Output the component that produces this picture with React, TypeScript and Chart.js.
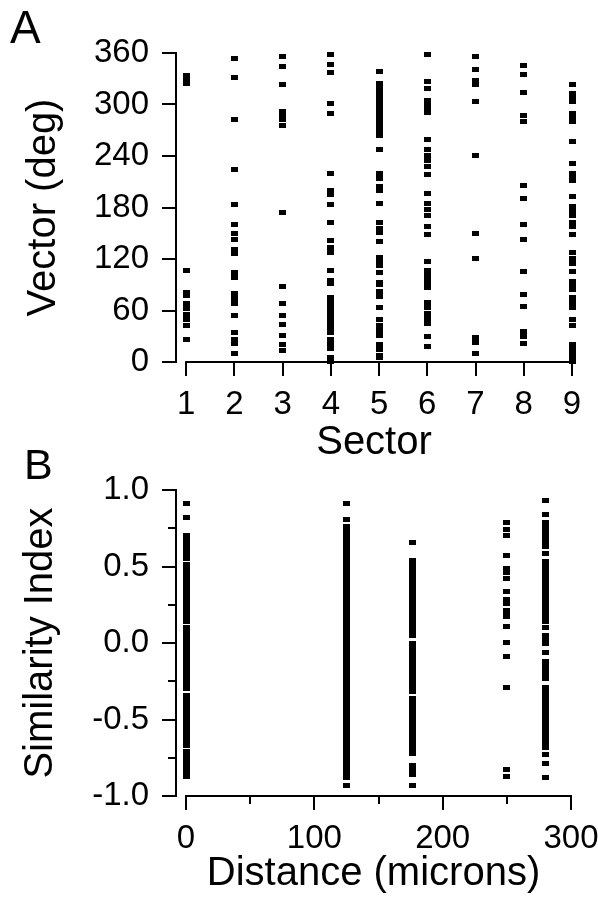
import { useEffect, useRef } from 'react';
import { Chart, registerables } from 'chart.js';

Chart.register(...registerables);

// ---------- Panel A: Vector (deg) per Sector ----------
const sectorTicks = [1, 2, 3, 4, 5, 6, 7, 8, 9];
const vectorTicks = [0, 60, 120, 180, 240, 300, 360];

const sector1 = [334, 329, 325, 107, 81, 77, 68, 62, 55, 49, 43, 26];
const sector2 = [354, 332, 282, 224, 183, 160, 150, 143, 131, 126, 104, 98, 80, 74, 68, 54, 34, 26, 21, 10];
const sector3 = [356, 344, 323, 292, 287, 282, 275, 174, 88, 68, 54, 44, 31, 20, 13];
const sector4 = [358, 347, 337, 301, 290, 220, 200, 195, 183, 162, 142, 133, 127, 107, 95, 92, 75, 70, 65, 60, 55, 50, 45, 40, 34, 26, 20, 16, 5, 1];
const sector5 = [338, 324, 321, 317, 313, 309, 306, 302, 298, 295, 291, 287, 283, 279, 275, 271, 267, 264, 247, 220, 214, 204, 200, 185, 162, 156, 151, 140, 122, 116, 112, 104, 93, 90, 82, 76, 64, 49, 43, 37, 31, 20, 14, 8, 5];
const sector6 = [358, 327, 319, 305, 299, 295, 291, 259, 247, 241, 235, 228, 218, 196, 185, 178, 171, 158, 148, 117, 107, 102, 97, 92, 87, 69, 63, 57, 51, 45, 30, 18];
const sector7 = [356, 341, 328, 323, 303, 241, 150, 121, 28, 23, 10];
const sector8 = [345, 335, 314, 287, 280, 206, 191, 160, 143, 106, 79, 65, 35, 30, 22];
const sector9 = [323, 313, 308, 303, 290, 285, 280, 257, 231, 220, 216, 212, 193, 181, 176, 171, 163, 158, 148, 127, 121, 115, 106, 94, 89, 84, 75, 69, 63, 50, 43, 20, 14, 9, 5, 1];
const sectorVectors = [sector1, sector2, sector3, sector4, sector5, sector6, sector7, sector8, sector9];

// ---------- Panel B: Similarity Index vs Distance ----------
const distanceTicks = [0, 100, 200, 300];
const distanceMinorTicks = [50, 150, 250];
const similarityTicks = [-1, -0.5, 0, 0.5, 1];
const similarityMinorTicks = [-0.75, -0.25, 0.25, 0.75];
const distances = [0, 125, 176.5, 250, 280];

const simAt0 = [0.91, 0.82, 0.70, 0.68, 0.66, 0.63, 0.61, 0.59, 0.57, 0.55, 0.51, 0.49, 0.47, 0.45, 0.43, 0.41, 0.39, 0.37, 0.34, 0.32, 0.30, 0.27, 0.25, 0.23, 0.21, 0.18, 0.16, 0.14, 0.10, 0.08, 0.06, 0.03, 0.01, -0.02, -0.04, -0.07, -0.09, -0.11, -0.14, -0.16, -0.18, -0.21, -0.23, -0.25, -0.28, -0.30, -0.34, -0.36, -0.39, -0.41, -0.43, -0.46, -0.48, -0.51, -0.53, -0.55, -0.58, -0.60, -0.62, -0.65, -0.67, -0.71, -0.73, -0.75, -0.78, -0.80, -0.83, -0.85, -0.87];
const simAt125 = [0.91, 0.81, 0.76, 0.73, 0.71, 0.69, 0.66, 0.64, 0.62, 0.59, 0.57, 0.54, 0.52, 0.50, 0.47, 0.45, 0.43, 0.40, 0.38, 0.36, 0.33, 0.31, 0.29, 0.26, 0.24, 0.22, 0.19, 0.17, 0.15, 0.12, 0.10, 0.08, 0.05, 0.03, 0.01, -0.02, -0.04, -0.06, -0.09, -0.11, -0.13, -0.16, -0.18, -0.20, -0.23, -0.25, -0.27, -0.30, -0.32, -0.34, -0.37, -0.39, -0.41, -0.44, -0.46, -0.48, -0.51, -0.53, -0.55, -0.58, -0.60, -0.62, -0.65, -0.67, -0.69, -0.72, -0.74, -0.76, -0.79, -0.81, -0.83, -0.86, -0.88, -0.93];
const simAt176 = [0.66, 0.54, 0.52, 0.49, 0.46, 0.44, 0.42, 0.40, 0.38, 0.35, 0.33, 0.30, 0.28, 0.26, 0.24, 0.21, 0.19, 0.17, 0.14, 0.12, 0.09, 0.07, 0.05, 0.00, -0.02, -0.04, -0.07, -0.09, -0.11, -0.14, -0.16, -0.19, -0.21, -0.23, -0.25, -0.28, -0.30, -0.32, -0.36, -0.38, -0.40, -0.42, -0.44, -0.46, -0.49, -0.51, -0.53, -0.56, -0.58, -0.60, -0.63, -0.66, -0.68, -0.70, -0.72, -0.80, -0.83, -0.86, -0.93];
const simAt250 = [0.79, 0.74, 0.70, 0.575, 0.49, 0.46, 0.42, 0.335, 0.285, 0.26, 0.215, 0.19, 0.17, 0.105, 0.005, -0.09, -0.29, -0.83, -0.87];
const simAt280 = [0.93, 0.84, 0.79, 0.77, 0.74, 0.72, 0.69, 0.66, 0.63, 0.585, 0.53, 0.51, 0.48, 0.46, 0.43, 0.41, 0.38, 0.36, 0.33, 0.31, 0.28, 0.26, 0.23, 0.21, 0.18, 0.16, 0.14, 0.10, 0.05, 0.02, 0.00, -0.06, -0.12, -0.15, -0.18, -0.21, -0.23, -0.29, -0.32, -0.34, -0.37, -0.40, -0.42, -0.45, -0.48, -0.50, -0.53, -0.56, -0.58, -0.61, -0.63, -0.66, -0.68, -0.73, -0.79, -0.88];
const similarityByDistance = [simAt0, simAt125, simAt176, simAt250, simAt280];

const FONT = "'Liberation Sans', Arial, Helvetica, sans-serif";
const TICK_FONT = { family: FONT, size: 33 };
const TITLE_FONT = { family: FONT, size: 40 };

function makeMarker(): HTMLCanvasElement {
  const c = document.createElement('canvas');
  c.width = 7;
  c.height = 5;
  const g = c.getContext('2d')!;
  g.fillStyle = '#000';
  g.fillRect(0, 0, 7, 5);
  return c;
}

const detachedAxes = {
  id: 'detachedAxes',
  afterDatasetsDraw(chart: any, _args: any, opts: any) {
    const { ctx, chartArea } = chart;
    const xs = chart.scales.x;
    const ys = chart.scales.y;
    const xT: number[] = opts.xTicks;
    ctx.save();
    ctx.strokeStyle = '#000';
    ctx.lineWidth = 2;
    ctx.beginPath();
    // y axis line
    ctx.moveTo(chartArea.left, ys.getPixelForValue(ys.min) + 1);
    ctx.lineTo(chartArea.left, ys.getPixelForValue(ys.max) - 1);
    // x axis line (detached, spans first..last tick)
    ctx.moveTo(xs.getPixelForValue(xT[0]) - 1, chartArea.bottom);
    ctx.lineTo(xs.getPixelForValue(xT[xT.length - 1]) + 1, chartArea.bottom);
    // minor ticks
    (opts.yMinor || []).forEach((v: number) => {
      const p = Math.round(ys.getPixelForValue(v));
      ctx.moveTo(chartArea.left - opts.minorLen, p);
      ctx.lineTo(chartArea.left, p);
    });
    (opts.xMinor || []).forEach((v: number) => {
      const p = Math.round(xs.getPixelForValue(v));
      ctx.moveTo(p, chartArea.bottom);
      ctx.lineTo(p, chartArea.bottom + opts.minorLen);
    });
    ctx.stroke();
    ctx.restore();
  },
};

const tickGrid = {
  display: true,
  drawOnChartArea: false,
  drawTicks: true,
  tickLength: 14,
  color: '#000',
  lineWidth: 2,
};

function setTicks(values: number[]) {
  return (scale: any) => {
    scale.ticks = values.map((v) => ({ value: v }));
  };
}

function fmtSim(v: number) {
  const n = Math.abs(v) < 1e-9 ? 0 : v;
  return n.toFixed(1);
}

function PanelA() {
  const ref = useRef<HTMLCanvasElement>(null);
  useEffect(() => {
    const marker = makeMarker();
    const points: { x: number; y: number }[] = [];
    sectorVectors.forEach((arr, i) => arr.forEach((v) => points.push({ x: sectorTicks[i], y: v })));
    const chart = new Chart(ref.current!, {
      type: 'scatter',
      data: {
        datasets: [
          { data: points, pointStyle: marker as any, pointRadius: 3, clip: false as any, backgroundColor: '#000', borderColor: '#000' },
        ],
      },
      options: {
        animation: false,
        responsive: false,
        events: [],
        layout: { padding: { left: 0, top: 53, right: 26, bottom: 0 } },
        plugins: {
          legend: { display: false },
          tooltip: { enabled: false },
          detachedAxes: { xTicks: sectorTicks, minorLen: 8 },
        } as any,
        scales: {
          x: {
            type: 'linear',
            min: 0.79,
            max: 9,
            afterBuildTicks: setTicks(sectorTicks),
            afterFit: (s: any) => { s.height = 105; s.paddingLeft = 0; s.paddingRight = 0; },
            grid: tickGrid,
            border: { display: false },
            ticks: { font: TICK_FONT, color: '#000', padding: 9, maxRotation: 0, autoSkip: false },
            title: { display: true, text: 'Sector', font: TITLE_FONT, color: '#000', padding: { top: 0, bottom: 0 } },
          },
          y: {
            type: 'linear',
            min: 0,
            max: 360,
            afterBuildTicks: setTicks(vectorTicks),
            afterFit: (s: any) => { s.width = 176; s.paddingTop = 0; s.paddingBottom = 0; },
            grid: tickGrid,
            border: { display: false },
            ticks: { font: TICK_FONT, color: '#000', padding: 13, autoSkip: false },
            title: { display: true, text: 'Vector (deg)', font: TITLE_FONT, color: '#000', padding: { top: 20, bottom: 0 } },
          },
        } as any,
      },
      plugins: [detachedAxes],
    });
    return () => chart.destroy();
  }, []);
  return <canvas ref={ref} width={598} height={467} style={{ position: 'absolute', left: 0, top: 0, width: 598, height: 467 }} />;
}

function PanelB() {
  const ref = useRef<HTMLCanvasElement>(null);
  useEffect(() => {
    const marker = makeMarker();
    const points: { x: number; y: number }[] = [];
    similarityByDistance.forEach((arr, i) => arr.forEach((v) => points.push({ x: distances[i], y: v })));
    const chart = new Chart(ref.current!, {
      type: 'scatter',
      data: {
        datasets: [
          { data: points, pointStyle: marker as any, pointRadius: 3, clip: false as any, backgroundColor: '#000', borderColor: '#000' },
        ],
      },
      options: {
        animation: false,
        responsive: false,
        events: [],
        layout: { padding: { left: 0, top: 45, right: 27, bottom: 0 } },
        plugins: {
          legend: { display: false },
          tooltip: { enabled: false },
          detachedAxes: { xTicks: distanceTicks, xMinor: distanceMinorTicks, yMinor: similarityMinorTicks, minorLen: 8 },
        } as any,
        scales: {
          x: {
            type: 'linear',
            min: -7.8,
            max: 300,
            afterBuildTicks: setTicks(distanceTicks),
            afterFit: (s: any) => { s.height = 102; s.paddingLeft = 0; s.paddingRight = 0; },
            grid: tickGrid,
            border: { display: false },
            ticks: { font: TICK_FONT, color: '#000', padding: 9, maxRotation: 0, autoSkip: false },
            title: { display: true, text: 'Distance (microns)', font: TITLE_FONT, color: '#000', padding: { top: 0, bottom: 0 } },
          },
          y: {
            type: 'linear',
            min: -1,
            max: 1,
            afterBuildTicks: setTicks(similarityTicks),
            afterFit: (s: any) => { s.width = 176; s.paddingTop = 0; s.paddingBottom = 0; },
            grid: tickGrid,
            border: { display: false },
            ticks: { font: TICK_FONT, color: '#000', padding: 13, autoSkip: false, callback: (v: any) => fmtSim(Number(v)) },
            title: { display: true, text: 'Similarity Index', font: TITLE_FONT, color: '#000', padding: { top: 17, bottom: 0 } },
          },
        } as any,
      },
      plugins: [detachedAxes],
    });
    return () => chart.destroy();
  }, []);
  return <canvas ref={ref} width={598} height={453} style={{ position: 'absolute', left: 0, top: 445, width: 598, height: 453 }} />;
}

const panelLetter: React.CSSProperties = {
  position: 'absolute',
  fontFamily: FONT,
  color: '#000',
  margin: 0,
};

export default function App() {
  return (
    <div style={{ position: 'absolute', left: 0, top: 0, width: 598, height: 898, background: '#fff', overflow: 'hidden' }}>
      <PanelA />
      <PanelB />
      <div style={{ ...panelLetter, left: 10, top: 4, fontSize: 46, lineHeight: '46px' }}>A</div>
      <div style={{ ...panelLetter, left: 24, top: 443, fontSize: 43, lineHeight: '43px' }}>B</div>
    </div>
  );
}
